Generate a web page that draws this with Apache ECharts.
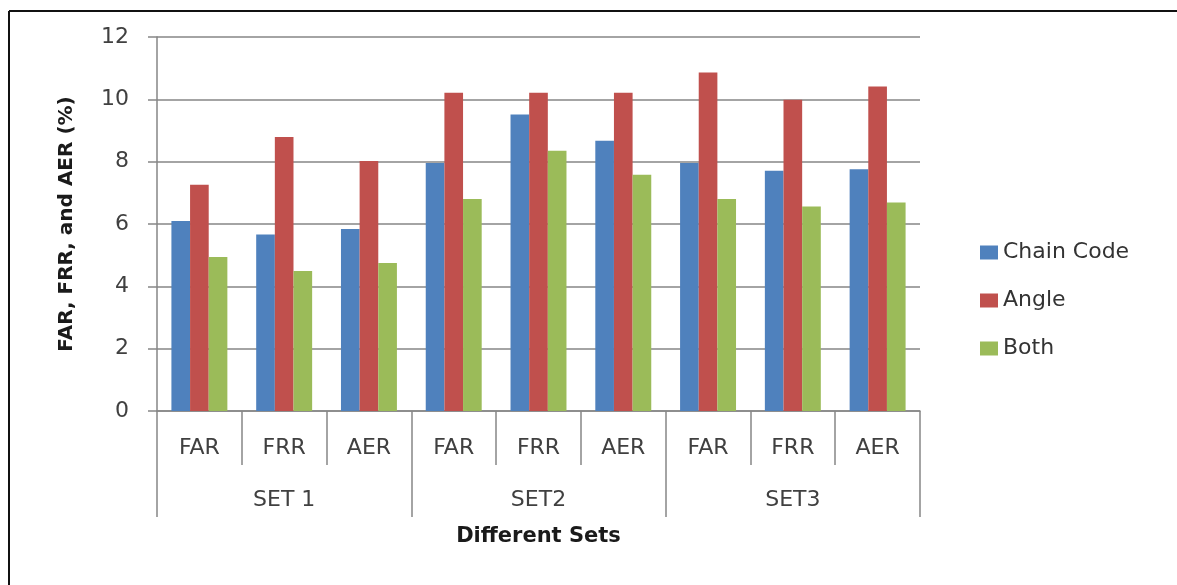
<!DOCTYPE html>
<html>
<head>
<meta charset="utf-8">
<script src="https://cdn.jsdelivr.net/npm/echarts@6/dist/echarts.min.js"></script>
<style>
  html, body { margin: 0; padding: 0; background: #fff; }
  #chart { width: 1177px; height: 585px; }
</style>
</head>
<body>
<div id="chart"></div>
<script>
// Error rates (%) per measure, grouped into three test sets
const measures = ['FAR', 'FRR', 'AER', 'FAR', 'FRR', 'AER', 'FAR', 'FRR', 'AER'];
const sets = ['SET 1', 'SET2', 'SET3'];
const chainCode = [6.1, 5.66, 5.84, 7.96, 9.51, 8.67, 7.96, 7.71, 7.76];
const angle = [7.26, 8.79, 8.02, 10.21, 10.21, 10.21, 10.86, 9.99, 10.41];
const both = [4.94, 4.49, 4.75, 6.8, 8.35, 7.58, 6.8, 6.56, 6.69];
const seriesNames = ['Chain Code', 'Angle', 'Both'];
const colors = ['#4F81BD', '#C0504D', '#9BBB59'];

const FONT = 'DejaVu Sans';
const chart = echarts.init(document.getElementById('chart'), null, { renderer: 'canvas' });

const bar = (name, data, color) => ({
  name, type: 'bar', data, xAxisIndex: 0, yAxisIndex: 0,
  barGap: '0%', barCategoryGap: '34%',
  itemStyle: { color }
});

chart.setOption({
  animation: false,
  backgroundColor: '#fff',
  textStyle: { fontFamily: FONT },
  grid: { left: 157, right: 257, top: 37, bottom: 174, containLabel: false },
  legend: {
    orient: 'vertical', left: 975, top: 236,
    itemWidth: 18, itemHeight: 14, itemGap: 25, icon: 'rect',
    data: seriesNames,
    textStyle: { fontFamily: FONT, fontSize: 22, color: '#333', lineHeight: 23 }
  },
  xAxis: [
    {
      type: 'category', data: measures, position: 'bottom',
      axisLine: { show: true, lineStyle: { color: '#868686', width: 1.5 } },
      axisTick: { show: true, length: 54, lineStyle: { color: '#868686', width: 1.5 } },
      axisLabel: { fontFamily: FONT, fontSize: 22, color: '#404040', margin: 26, lineHeight: 22 }
    },
    {
      type: 'category', data: sets, position: 'bottom',
      name: 'Different Sets', nameLocation: 'middle', nameGap: 115,
      nameTextStyle: { fontFamily: FONT, fontSize: 21, fontWeight: 'bold', color: '#1a1a1a' },
      axisLine: { show: false },
      axisTick: { show: true, length: 106, lineStyle: { color: '#868686', width: 1.5 } },
      axisLabel: { fontFamily: FONT, fontSize: 22, color: '#404040', margin: 78, lineHeight: 22 }
    }
  ],
  yAxis: {
    type: 'value', min: 0, max: 12, interval: 2,
    name: 'FAR, FRR, and AER (%)', nameLocation: 'middle', nameGap: 80, nameRotate: 90,
    nameTextStyle: { fontFamily: FONT, fontSize: 20, fontWeight: 'bold', color: '#1a1a1a' },
    axisLine: { show: true, lineStyle: { color: '#868686', width: 1.5 } },
    axisTick: { show: true, length: 9, lineStyle: { color: '#868686', width: 1.5 } },
    splitLine: { show: true, lineStyle: { color: '#868686', width: 1.5 } },
    axisLabel: { fontFamily: FONT, fontSize: 22, color: '#404040', margin: 28 }
  },
  series: [
    bar(seriesNames[0], chainCode, colors[0]),
    bar(seriesNames[1], angle, colors[1]),
    bar(seriesNames[2], both, colors[2])
  ],
  graphic: [
    // frame along the top and left edges
    { type: 'line', shape: { x1: 9, y1: 11, x2: 1177, y2: 11 }, style: { stroke: '#111', lineWidth: 2 } },
    { type: 'line', shape: { x1: 9, y1: 11, x2: 9, y2: 585 }, style: { stroke: '#111', lineWidth: 2 } }
  ]
});
</script>
</body>
</html>
